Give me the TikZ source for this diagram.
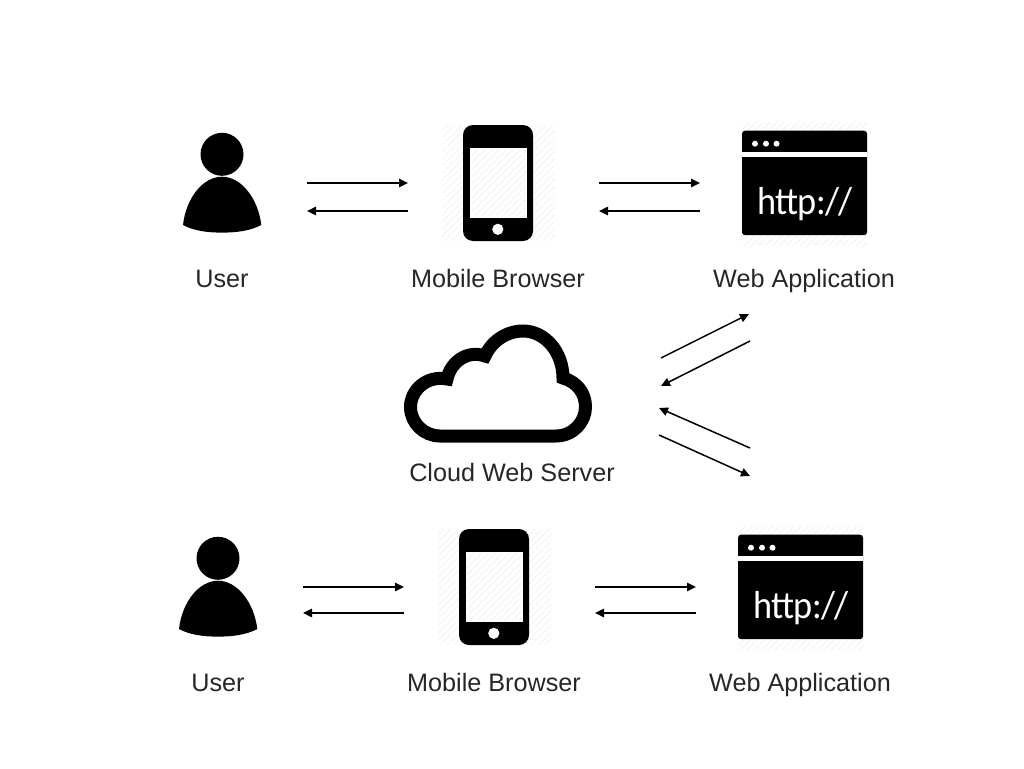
\documentclass[tikz,border=0pt]{standalone}
\usepackage{fontspec}
\setmainfont{Liberation Sans}
\newfontfamily\httpfont[LetterSpace=-1.5]{Carlito}
\usetikzlibrary{arrows.meta}
\tikzset{
  x=1pt,y=-1pt,
  lbl/.style={font=\fontsize{25.2}{28}\selectfont,text=black!85,inner sep=0pt,anchor=base},
  conn/.style={line width=1.5pt,-{Triangle[length=9pt,width=8.5pt]}},
  hatchln/.style={line width=1.4pt,draw=black!3.5},
  httptext/.style={font=\httpfont\fontsize{39}{44}\selectfont,text=white,inner sep=0pt,anchor=base,xscale=.93},
}
\newcommand\hatchbox[4]{%
  \begin{scope}
    \clip (#1,#2) rectangle (#3,#4);
    \foreach \k in {0,7,...,301}{\draw[hatchln] (#1-20+\k-120,#4+10) -- ++(140,-140);}
  \end{scope}}
\newcommand\usericon{%
  \fill[black] (222,154.3) circle[radius=21.5];
  \fill[black] (183,225) .. controls (186,198) and (203,176.7) .. (222,176.7)
    .. controls (241,176.7) and (258,198) .. (261.3,225)
    .. controls (250,231) and (236,232.6) .. (222,232.6)
    .. controls (208,232.6) and (194,231) .. (183,225) -- cycle;}
\newcommand\phoneicon{%
  \hatchbox{442}{125}{555}{240}
  \fill[black,rounded corners=10pt] (463,125) rectangle (533,241);
  \fill[white] (469.5,147.7) rectangle (526.7,218);
  \hatchbox{471}{149.5}{525.5}{216.5}
  \fill[white] (497.8,229.3) circle[radius=5.6];}
\newcommand\webicon{%
  \hatchbox{742}{122}{867}{245}
  \fill[black,rounded corners=3pt] (742,130.7) rectangle (867,235.2);
  \fill[white] (742,151.7) rectangle (867,156.7);
  \foreach \c in {755,766,776.5}{\fill[white] (\c,143.7) circle[radius=3];}
  }
\begin{document}
\begin{tikzpicture}
\useasboundingbox (0,0) rectangle (1024,768);
% top row
\usericon
\phoneicon
\webicon
\node[httptext] (httpA) at (805,214) {http://};
\node[lbl] (userA) at (222,287) {User};
\node[lbl] (phoneA) at (498,287) {Mobile Browser};
\node[lbl] (webA) at (804,287) {Web Application};
% bottom row
\begin{scope}[shift={(-4,404)}]
\usericon
\phoneicon
\webicon
\end{scope}
\node[httptext] (httpB) at (801,618) {http://};
\node[lbl] (userB) at (218,691) {User};
\node[lbl] (phoneB) at (494,691) {Mobile Browser};
\node[lbl] (webB) at (800,691) {Web Application};
% cloud
\draw[line width=13pt,black,miter limit=10,line join=miter]
  (440,436) -- (556,436)
  .. controls (573,436) and (585.5,422) .. (585.5,407)
  .. controls (585.5,393) and (577,382) .. (563,378)
  .. controls (563,352) and (545,331) .. (523,331)
  .. controls (506,331) and (491,342) .. (485,356)
  .. controls (468,350) and (451,361) .. (447,379)
  .. controls (427,375) and (410.5,390) .. (410.5,407)
  .. controls (410.5,423) and (424,436) .. (440,436) -- cycle;
\node[lbl] (cloud) at (512,481) {Cloud Web Server};
% connector ends
\coordinate (a1) at (307,183); \coordinate (a2) at (408,183);
\coordinate (b1) at (408,211); \coordinate (b2) at (307,211);
\coordinate (c1) at (599,183); \coordinate (c2) at (700,183);
\coordinate (d1) at (700,211); \coordinate (d2) at (599,211);
\coordinate (e1) at (303,587); \coordinate (e2) at (404,587);
\coordinate (f1) at (404,613); \coordinate (f2) at (303,613);
\coordinate (g1) at (595,587); \coordinate (g2) at (696,587);
\coordinate (h1) at (696,613); \coordinate (h2) at (595,613);
\coordinate (i1) at (661,358); \coordinate (i2) at (749,314);
\coordinate (j1) at (750,341); \coordinate (j2) at (661,386);
\coordinate (k1) at (750,448); \coordinate (k2) at (659,408);
\coordinate (l1) at (659,435); \coordinate (l2) at (750,476);
\foreach \p in {a,b,c,d,e,f,g,h,i,j,k,l}{\draw[conn] (\p1) -- (\p2);}
\end{tikzpicture}
\end{document}
